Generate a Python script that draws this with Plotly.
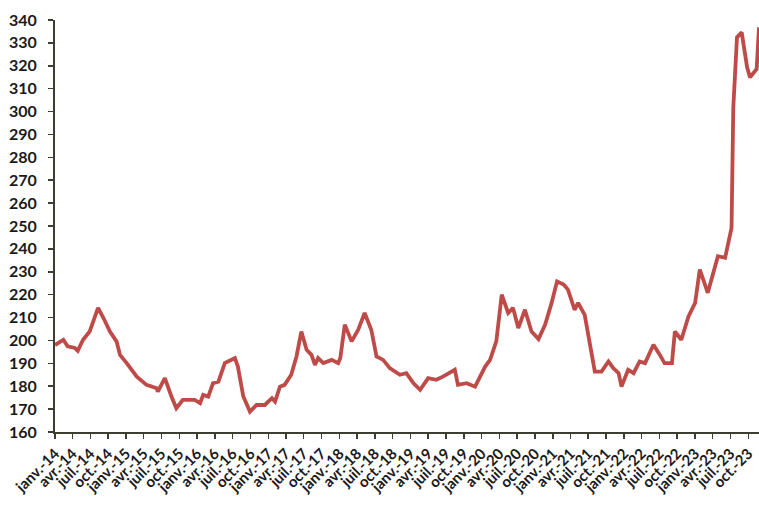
import plotly.graph_objects as go

dates = ["2014-01-01","2014-02-13","2014-03-07","2014-04-13","2014-04-28","2014-05-25","2014-06-28",
"2014-08-10","2014-09-07","2014-10-10","2014-11-13","2014-12-01","2015-01-04","2015-02-25",
"2015-04-16","2015-06-07","2015-06-13","2015-07-19","2015-08-22","2015-09-16","2015-10-19",
"2015-12-19","2016-01-16","2016-02-01","2016-02-27","2016-03-22","2016-04-19","2016-05-22",
"2016-06-07","2016-07-13","2016-07-28","2016-08-25","2016-09-28","2016-11-01","2016-12-13",
"2017-01-19","2017-02-04","2017-03-01","2017-03-25","2017-04-28","2017-05-25","2017-06-19",
"2017-07-16","2017-08-10","2017-08-28","2017-09-13","2017-10-10","2017-11-22","2017-12-25",
"2018-01-05","2018-01-28","2018-03-04","2018-04-07","2018-05-10","2018-06-13","2018-07-10",
"2018-08-13","2018-09-16","2018-11-07","2018-12-10","2019-01-16","2019-02-19","2019-04-01",
"2019-05-13","2019-06-16","2019-07-22","2019-08-16","2019-09-01","2019-10-16","2019-11-28",
"2019-12-22","2020-01-19","2020-02-13","2020-03-16","2020-04-13","2020-05-16","2020-06-10",
"2020-07-07","2020-08-10","2020-09-13","2020-10-19","2020-11-22","2020-12-25","2021-01-22",
"2021-02-25","2021-03-19","2021-04-22","2021-05-10","2021-06-13","2021-07-10","2021-08-04",
"2021-09-07","2021-10-13","2021-11-07","2021-12-04","2021-12-19","2022-01-22","2022-02-19",
"2022-03-22","2022-04-19","2022-06-01","2022-07-04","2022-07-28","2022-09-04","2022-09-19",
"2022-10-22","2022-11-28","2023-01-01","2023-01-25","2023-03-07","2023-04-04","2023-04-28",
"2023-06-04","2023-07-07","2023-07-16","2023-08-04","2023-08-28","2023-09-25","2023-10-10",
"2023-10-28","2023-11-13","2023-11-25"]

values = [198.0,200.3,197.4,196.7,195.5,200.3,203.9,
214.2,209.8,203.9,199.6,193.7,190.1,184.2,
180.6,179.1,177.6,183.5,175.5,170.4,174.0,
174.0,172.6,176.2,175.5,181.3,182.0,190.1,
190.8,192.3,188.6,175.5,168.9,171.8,171.8,
174.8,173.3,179.8,180.6,185.0,193.0,203.9,
195.9,193.7,189.3,192.3,190.1,191.5,190.1,
192.3,206.9,199.6,204.7,212.0,204.7,193.0,
191.5,187.9,185.0,185.7,181.3,178.4,183.5,
182.8,184.2,185.7,187.2,180.6,181.3,179.8,
183.5,188.6,191.5,199.6,220.0,212.0,214.2,
205.4,213.4,203.9,200.6,206.9,216.4,225.8,
224.4,222.2,213.4,216.4,211.2,198.1,186.4,
186.4,190.8,187.9,185.7,179.8,187.2,185.7,
190.8,190.1,198.1,193.7,190.1,190.1,203.9,
200.3,210.5,216.4,231.0,220.8,230.2,236.8,
236.1,249.2,301.8,332.4,334.6,319.3,314.9,
317.1,318.6,336.8]

tick_dates = []
tick_labels = []
month_names = [("01", "janv."), ("04", "avr."), ("07", "juil."), ("10", "oct.")]
for yr in range(2014, 2024):
    for mm, nm in month_names:
        tick_dates.append(f"{yr}-{mm}-01")
        tick_labels.append(f"{nm}-{str(yr)[2:]}")

y_ticks = list(range(160, 341, 10))

axis_color = "#3d3d30"
font_family = "Lato, 'Open Sans', sans-serif"

fig = go.Figure()
fig.add_trace(go.Scatter(
    x=dates, y=values, mode="lines",
    line=dict(color="#BE4B48", width=3.8),
    showlegend=False, hoverinfo="skip",
))

fig.update_layout(
    width=759, height=505,
    margin=dict(l=55, r=0, t=20, b=73, autoexpand=False),
    paper_bgcolor="white", plot_bgcolor="white",
    font=dict(family=font_family, color="#1a1a1a"),
    xaxis=dict(
        type="date", automargin=False,
        range=["2014-01-01", "2023-11-25"],
        tickmode="array", tickvals=tick_dates, ticktext=tick_labels,
        tickangle=-45,
        tickfont=dict(size=15, family=font_family, weight="bold", color="#1a1a1a"),
        ticks="outside", ticklen=5, tickwidth=1.5, tickcolor=axis_color,
        showline=True, linecolor=axis_color, linewidth=2,
        showgrid=False, zeroline=False,
    ),
    yaxis=dict(
        automargin=False,
        range=[160, 340],
        tickmode="array", tickvals=y_ticks,
        tickfont=dict(size=16, family=font_family, weight="bold", color="#1a1a1a"),
        ticks="outside", ticklen=5, tickwidth=1.5, tickcolor=axis_color,
        ticklabelstandoff=8,
        showline=True, linecolor=axis_color, linewidth=2,
        showgrid=False, zeroline=False,
    ),
)

fig.write_html(
    "out.html",
    config={"displayModeBar": False, "staticPlot": True},
    post_script="document.body.style.margin='0';document.body.style.overflow='hidden';",
)
